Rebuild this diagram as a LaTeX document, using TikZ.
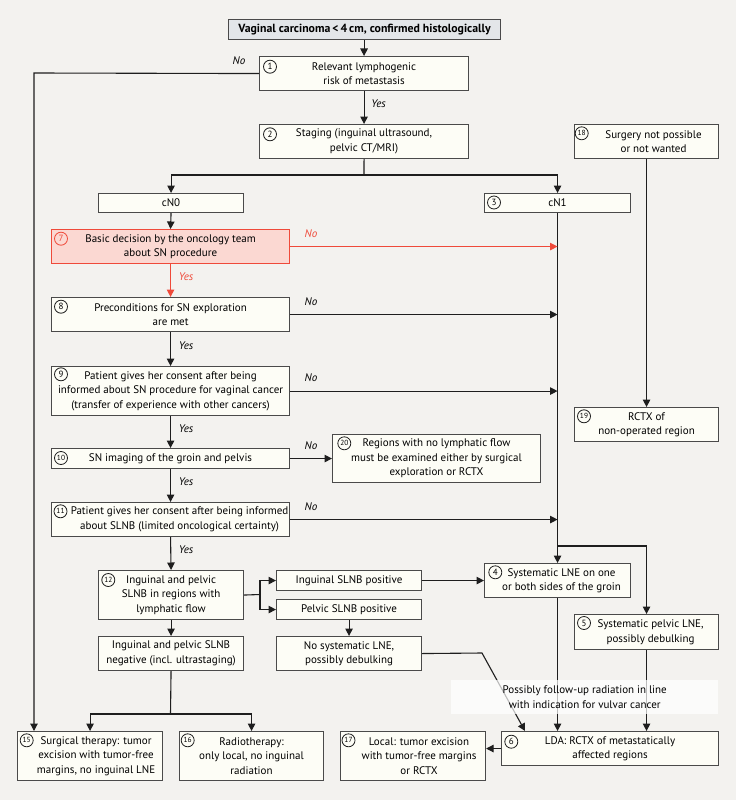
\documentclass[tikz,border=0pt]{standalone}
\usepackage{fontspec}
\setmainfont{PT Sans}
\usetikzlibrary{arrows.meta,calc}
\definecolor{bgc}{HTML}{F3F2EF}
\definecolor{boxc}{HTML}{FDFDF6}
\definecolor{bordc}{HTML}{4A4A4A}
\definecolor{titc}{HTML}{E3E6E9}
\definecolor{redc}{HTML}{EF4A3A}
\definecolor{pinkc}{HTML}{FBD8D2}
\definecolor{linec}{HTML}{1E1E1E}
\newcommand\mainsz{\fontsize{11}{14.6}\selectfont}
\newcommand\mkbox[7][]{\node[box,anchor=north west,minimum width={#5-#3},minimum height={#6-#4},#1] (#2) at (#3,#4) {#7};}
\tikzset{
  box/.style={draw=bordc,fill=boxc,line width=1.1pt,inner sep=1pt,align=center,font=\mainsz},
  numc/.style={circle,draw=linec,line width=0.8pt,inner sep=0pt,minimum size=13pt,font=\fontsize{9}{9}\selectfont},
  numcc/.style={numc,font=\fontsize{7.4}{7.4}\selectfont},
  conn/.style={draw=linec,line width=1.1pt},
  lab/.style={font=\itshape\mainsz,inner sep=0pt},
  >={Triangle[length=7.5pt,width=7.5pt]}
}
\begin{document}
\begin{tikzpicture}[x=1pt,y=-1pt]
\fill[bgc] (0,0) rectangle (736,800);
\useasboundingbox (0,0) rectangle (736,800);

% boxes
\mkbox[fill=titc,font=\bfseries\fontsize{11.8}{14}\selectfont]{title}{228}{19}{500}{39}{Vaginal carcinoma\,<\,4\,cm, confirmed histologically}
\mkbox{b1}{259}{56}{468}{90}{Relevant lymphogenic\\risk of metastasis}
\mkbox{b2}{259}{124}{468}{158}{Staging (inguinal ultrasound,\\pelvic CT/MRI)}
\mkbox{b18}{574}{124}{718}{158}{\hspace*{14pt}Surgery not possible\\\hspace*{14pt}or not wanted}
\mkbox{cN0}{98}{193}{243}{212}{cN0}
\mkbox{b3}{484}{193}{630}{212}{cN1}
\mkbox[fill=pinkc,draw=redc]{b7}{51}{229}{289}{263}{Basic decision by the oncology team\\about SN procedure}
\mkbox{b8}{51}{297}{289}{331}{Preconditions for SN exploration\\are met}
\mkbox{b9}{51}{366}{289}{415}{Patient gives her consent after being\\informed about SN procedure for vaginal cancer\\(transfer of experience with other cancers)}
\mkbox{b19}{574}{407}{718}{441}{RCTX of\\non-operated region}
\mkbox{b10}{51}{448}{289}{468}{SN imaging of the groin and pelvis}
\mkbox{b20}{332}{434}{540}{482}{Regions with no lymphatic flow\\must be examined either by surgical\\exploration or RCTX}
\mkbox{b11}{51}{502}{289}{536}{\hspace*{18pt}Patient gives her consent after being informed\\\hspace*{18pt}about SLNB (limited oncological certainty)}
\mkbox{b12}{98}{570}{243}{619}{Inguinal and pelvic\\SLNB in regions with\\lymphatic flow}
\mkbox{ing}{276}{570}{421}{590}{Inguinal SLNB positive}
\mkbox{pel}{276}{599}{421}{619}{Pelvic SLNB positive}
\mkbox{b4}{484}{563}{630}{597}{\hspace*{8pt}Systematic LNE on one\\\hspace*{8pt}or both sides of the groin}
\mkbox{b5}{574}{614}{718}{649}{\hspace*{8pt}Systematic pelvic LNE,\\\hspace*{8pt}possibly debulking}
\mkbox{neg}{98}{636}{243}{670}{Inguinal and pelvic SLNB\\negative (incl. ultrastaging)}
\mkbox{nosys}{276}{636}{421}{670}{No systematic LNE,\\possibly debulking}
\mkbox{b15}{17}{731}{162}{780}{\hspace*{12pt}Surgical therapy: tumor\\\hspace*{12pt}excision with tumor-free\\\hspace*{12pt}margins, no inguinal LNE}
\mkbox{b16}{179}{731}{323}{780}{Radiotherapy:\\only local, no inguinal\\radiation}
\mkbox{b17}{340}{731}{485}{780}{\hspace*{12pt}Local: tumor excision\\\hspace*{12pt}with tumor-free margins\\\hspace*{12pt}or RCTX}
\mkbox{b6}{501}{731}{718}{765}{LDA: RCTX of metastatically\\affected regions}

% circled numbers
\node[numc] (n1) at (270,66.7) {1};
\node[numc] (n2) at (270,134.3) {2};
\node[numc] (n3) at (494,202.5) {3};
\node[numc,draw=redc,text=redc] (n7) at (61,238.7) {7};
\node[numc] (n8) at (61,306.7) {8};
\node[numc] (n9) at (61,374.3) {9};
\node[numcc] (n10) at (61,458) {10};
\node[numcc] (n11) at (60.5,511.3) {11};
\node[numcc] (n12) at (108.3,580) {12};
\node[numc] (n4) at (495.3,572.3) {4};
\node[numc] (n5) at (584,623) {5};
\node[numc] (n6) at (511.3,741.7) {6};
\node[numcc] (n15) at (26.7,740.3) {15};
\node[numcc] (n16) at (187.7,740.3) {16};
\node[numcc] (n17) at (348.5,740.3) {17};
\node[numcc] (n18) at (581.7,133.3) {18};
\node[numcc] (n19) at (584,416.3) {19};
\node[numcc] (n20) at (344.3,443.3) {20};

% coordinates
\coordinate (lx) at (34,73);
\coordinate (s2) at (364,175);
\coordinate (s3) at (557,546);
\coordinate (s12) at (260,594.5);
\coordinate (s4) at (170.5,714);
\coordinate (d1) at (482,653);
\coordinate (d2) at (525,731);

% connectors
\draw[conn,->] (title.south -| b1.north) -- (b1.north);
\draw[conn,->] (b1.south) -- (b2.north);
\draw[conn,->] (b1.west) -- (lx) -- (lx |- b15.north);
\draw[conn] (b2.south) -- (s2);
\draw[conn,->] (s2) -| (cN0.north);
\draw[conn,->] (s2) -| (b3.north);
\draw[conn,->] (b3.south) -- (b4.north);
\draw[conn,->] (s3) -| (b5.north);
\draw[conn,->] (b18.south) -- (b19.north);
\draw[conn,->] (cN0.south) -- (b7.north);
\draw[conn,->,draw=redc,color=redc] (b7.south) -- (b8.north);
\draw[conn,->,draw=redc,color=redc] (b7.east) -- (b7.east -| b3.south);
\draw[conn,->] (b8.east) -- (b8.east -| b3.south);
\draw[conn,->] (b8.south) -- (b9.north);
\draw[conn,->] (b9.east) -- (b9.east -| b3.south);
\draw[conn,->] (b9.south) -- (b10.north);
\draw[conn,->] (b10.east) -- (b20.west);
\draw[conn,->] (b10.south) -- (b11.north);
\draw[conn,->] (b11.east) -- (b11.east -| b3.south);
\draw[conn,->] (b11.south) -- (b12.north);
\draw[conn] (b12.east) -- (s12);
\draw[conn,->] (s12) |- (ing.west);
\draw[conn,->] (s12) |- (pel.west);
\draw[conn,->] (ing.east) -- (ing.east -| b4.west);
\draw[conn,->] (pel.south) -- (nosys.north);
\draw[conn,->] (b12.south) -- (neg.north);
\draw[conn] (neg.south) -- (s4);
\draw[conn,->] (s4) -| (b15.north);
\draw[conn,->] (s4) -| (b16.north);
\draw[conn,->] (nosys.east) -- (d1) -- (d2);
\draw[conn,->] (b4.south) -- (b4.south |- b6.north);
\draw[conn,->] (b5.south) -- (b5.south |- b6.north);
\draw[conn,->] (b6.west) -- (b6.west -| b17.east);

% band note
\node[anchor=north west,minimum width=267pt,minimum height=34pt,fill=white,fill opacity=0.7,text opacity=1,align=center,font=\mainsz,inner sep=0pt] (band) at (451,680) {Possibly follow-up radiation in line\\with indication for vulvar cancer};

% labels
\node[lab] (l1) at (239,61) {No};
\node[lab] (y1) at (378.5,104) {Yes};
\node[lab,text=redc] (n7l) at (311,234) {No};
\node[lab,text=redc] (y7) at (186,277) {Yes};
\node[lab] (n8l) at (311,302) {No};
\node[lab] (y8) at (186,346) {Yes};
\node[lab] (n9l) at (311,378) {No};
\node[lab] (y9) at (186,429) {Yes};
\node[lab] (n10l) at (311,446) {No};
\node[lab] (y10) at (186,482) {Yes};
\node[lab] (n11l) at (311,507) {No};
\node[lab] (y11) at (186,550) {Yes};
\end{tikzpicture}
\end{document}
